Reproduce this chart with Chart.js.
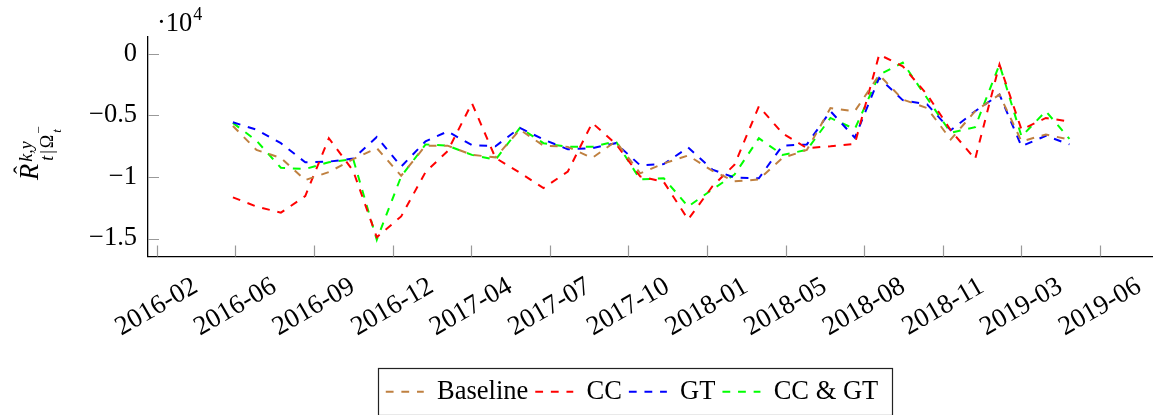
<!DOCTYPE html>
<html>
<head>
<meta charset="utf-8">
<script src="https://cdn.jsdelivr.net/npm/chart.js@4.4.1/dist/chart.umd.min.js"></script>
<style>
    html, body { margin: 0; padding: 0; background: #fff; }
</style>
</head>
<body>
<canvas id="grafico" width="1156" height="415"></canvas>
<script>
// Meses observados (primeiro dia de cada mês)
const meses = [
    '2016-06', '2016-07', '2016-08', '2016-09', '2016-10', '2016-11', '2016-12',
    '2017-01', '2017-02', '2017-03', '2017-04', '2017-05', '2017-06', '2017-07',
    '2017-08', '2017-09', '2017-10', '2017-11', '2017-12', '2018-01', '2018-02',
    '2018-03', '2018-04', '2018-05', '2018-06', '2018-07', '2018-08', '2018-09',
    '2018-10', '2018-11', '2018-12', '2019-01', '2019-02', '2019-03', '2019-04',
    '2019-05'
];

// Séries
const baseline = [
    -5850, -7800, -8450, -10250, -9600, -8550, -7650, -9900, -7450, -7450,
    -8200, -8400, -6150, -7450, -7550, -8450, -7100, -9700, -8900, -8250,
    -9500, -10350, -10200, -8450, -7800, -4400, -4650, -1700, -3700, -4400,
    -6950, -4650, -3300, -7100, -6550, -6950
];
const cc = [
    -11650, -12400, -12900, -11550, -6850, -9500, -14900, -13200, -9600, -7900,
    -4000, -8450, -9650, -10900, -9550, -5600, -7300, -9950, -10400, -13450,
    -10750, -9000, -4250, -6450, -7650, -7500, -7300, -50, -1000, -3300,
    -6200, -8550, -850, -6150, -5200, -5500
];
const gt = [
    -5550, -6150, -7250, -8800, -8750, -8500, -6750, -9150, -7100, -6300,
    -7400, -7500, -6000, -6950, -7750, -7650, -7250, -9050, -8950, -7600,
    -9400, -10050, -10100, -7450, -7350, -4650, -6800, -1950, -3750, -4100,
    -6200, -4650, -3300, -7500, -6650, -7350
];
const ccGt = [
    -5600, -7050, -9250, -9350, -8800, -8550, -15100, -9950, -7350, -7450,
    -8200, -8600, -6000, -7250, -7550, -7550, -7100, -10200, -10100, -12400,
    -11000, -9800, -6850, -8200, -7800, -5200, -6100, -1700, -700, -3600,
    -6400, -5950, -850, -6700, -4650, -6900
];

// Eixos
const xTickLabels = [
    '2016-02', '2016-06', '2016-09', '2016-12', '2017-04', '2017-07', '2017-10',
    '2018-01', '2018-05', '2018-08', '2018-11', '2019-03', '2019-06'
];
const xTickInicio = '2016-02-25';
const xTickPassoDias = 100;
const xMin = '2016-02-14';
const xMax = '2019-08-14';
const yTickValues = [0, -5000, -10000, -15000];
const yTickLabels = ['0', '\u22120.5', '\u22121', '\u22121.5'];
const yMin = -16460;
const yMax = 1380;

// Data 'AAAA-MM[-DD]' -> dias desde 2016-01-01
function dia(s) {
    const [a, m, d] = s.split('-').map(Number);
    return (Date.UTC(a, m - 1, d || 1) - Date.UTC(2016, 0, 1)) / 864e5;
}

function serie(nome, valores, cor) {
    return {
        label: nome,
        data: meses.map((m, i) => ({ x: dia(m), y: valores[i] })),
        borderColor: cor,
        backgroundColor: cor,
        borderWidth: 2,
        borderDash: [7.8, 7.8],
        pointRadius: 0,
        tension: 0,
        fill: false,
    };
}

const fonte = "'Liberation Serif', 'Times New Roman', serif";
Chart.defaults.font.family = fonte;
Chart.defaults.font.size = 26.5;
Chart.defaults.color = '#000';

// Marcas internas, rótulo do eixo y, fator de escala e moldura da legenda
const decoracao = {
    id: 'decoracao',
    afterLayout(chart) {
        // legenda centrada como no original (a partir de 36 px antes do eixo y)
        const leg = chart.legend;
        leg.left = chart.chartArea.left - 36;
        leg.right = chart.chartArea.right;
        leg.width = leg.right - leg.left;
    },
    afterDraw(chart) {
        const ctx = chart.ctx;
        const area = chart.chartArea;
        const sx = chart.scales.x;
        const sy = chart.scales.y;

        ctx.save();
        ctx.strokeStyle = '#999';
        ctx.lineWidth = 1.2;
        ctx.beginPath();
        sx.ticks.forEach(t => {
            const px = Math.round(sx.getPixelForValue(t.value)) + 0.5;
            ctx.moveTo(px, area.bottom);
            ctx.lineTo(px, area.bottom - 11);
        });
        sy.ticks.forEach(t => {
            const py = Math.round(sy.getPixelForValue(t.value)) + 0.5;
            ctx.moveTo(area.left, py);
            ctx.lineTo(area.left + 11, py);
        });
        ctx.stroke();
        ctx.restore();

        // ·10^4
        ctx.save();
        ctx.fillStyle = '#000';
        ctx.textBaseline = 'alphabetic';
        ctx.textAlign = 'left';
        ctx.font = '26.5px ' + fonte;
        ctx.fillText('\u00b710', area.left + 9, 31);
        const w10 = ctx.measureText('\u00b710').width;
        ctx.font = '18px ' + fonte;
        ctx.fillText('4', area.left + 10 + w10, 20);
        ctx.restore();

        // R^{k,y}_{t|Ω_t^-}
        ctx.save();
        ctx.translate(38, area.top + 143);
        ctx.rotate(-Math.PI / 2);
        ctx.fillStyle = '#000';
        ctx.textBaseline = 'alphabetic';
        ctx.textAlign = 'left';
        ctx.font = 'italic 26.5px ' + fonte;
        ctx.fillText('R', 0, 0);
        const wR = ctx.measureText('R').width;
        ctx.font = '24px ' + fonte;
        ctx.textAlign = 'center';
        ctx.fillText('\u02c6', wR / 2 + 2, -8);
        ctx.textAlign = 'left';
        ctx.font = 'italic 18px ' + fonte;
        ctx.fillText('k,y', wR + 2, -6);
        let x = wR + 3;
        ctx.fillText('t', x, 15);
        x += ctx.measureText('t').width + 2;
        ctx.font = '18px ' + fonte;
        ctx.fillText('|', x, 15);
        x += ctx.measureText('|').width + 2;
        ctx.fillText('\u03a9', x, 15);
        x += ctx.measureText('\u03a9').width + 1;
        ctx.font = '13px ' + fonte;
        ctx.fillText('\u2212', x, 5);
        ctx.font = 'italic 13px ' + fonte;
        ctx.fillText('t', x + 1, 23);
        ctx.restore();

        // Moldura da legenda
        const caixas = chart.legend.legendHitBoxes;
        if (caixas && caixas.length) {
            const esq = Math.min(...caixas.map(c => c.left)) - 8;
            const dir = Math.max(...caixas.map(c => c.left + c.width)) + 14;
            const topo = caixas[0].top - 11;
            const base = caixas[0].top + caixas[0].height + 9;
            ctx.save();
            ctx.strokeStyle = '#222';
            ctx.lineWidth = 1.2;
            ctx.strokeRect(Math.round(esq) + 0.5, Math.round(topo) + 0.5,
                Math.round(dir - esq), Math.round(base - topo));
            ctx.restore();
        }
    }
};

const ctx = document.getElementById('grafico').getContext('2d');
new Chart(ctx, {
    type: 'line',
    data: {
        datasets: [
            serie('Baseline', baseline, '#bf8040'),
            serie('CC', cc, '#ff0000'),
            serie('GT', gt, '#0000ff'),
            serie('CC & GT', ccGt, '#00ff00'),
        ]
    },
    options: {
        responsive: false,
        animation: false,
        layout: {
            padding: { left: 4, right: 4, top: 37, bottom: 0 }
        },
        scales: {
            x: {
                type: 'linear',
                min: dia(xMin),
                max: dia(xMax),
                bounds: 'data',
                grid: { display: false, drawTicks: false },
                border: { display: true, color: '#000', width: 1.3 },
                ticks: {
                    autoSkip: false,
                    minRotation: 30,
                    maxRotation: 30,
                    labelOffset: 39,
                    padding: 14,
                    color: '#000',
                    font: { size: 27 },
                    callback: (v, i) => xTickLabels[i],
                },
                afterBuildTicks: s => {
                    s.ticks = xTickLabels.map((_, i) => ({ value: dia(xTickInicio) + i * xTickPassoDias }));
                },
                afterFit: s => {
                    s.height = 115;
                    s.paddingLeft = 0;
                    s.paddingRight = 0;
                },
            },
            y: {
                min: yMin,
                max: yMax,
                bounds: 'data',
                grid: { display: false, drawTicks: false },
                border: { display: true, color: '#000', width: 1.3 },
                ticks: {
                    padding: 11,
                    color: '#000',
                    callback: (v, i) => yTickLabels[i],
                },
                afterBuildTicks: s => {
                    s.ticks = yTickValues.map(v => ({ value: v }));
                },
                afterFit: s => {
                    s.width = 144;
                    s.paddingTop = 0;
                    s.paddingBottom = 0;
                },
            }
        },
        plugins: {
            legend: {
                position: 'bottom',
                labels: {
                    usePointStyle: true,
                    pointStyle: 'line',
                    pointStyleWidth: 38,
                    padding: 7,
                    color: '#000',
                    font: { size: 26.5 },
                    generateLabels: chart => chart.data.datasets.map((ds, i) => ({
                        text: ds.label,
                        datasetIndex: i,
                        hidden: false,
                        fillStyle: ds.borderColor,
                        strokeStyle: ds.borderColor,
                        fontColor: '#000',
                        lineWidth: ds.borderWidth,
                        lineDash: ds.borderDash,
                        lineDashOffset: 0,
                        lineCap: 'butt',
                        pointStyle: 'line',
                        rotation: 0,
                    })),
                }
            },
            tooltip: { enabled: false }
        }
    },
    plugins: [decoracao]
});
</script>
</body>
</html>
